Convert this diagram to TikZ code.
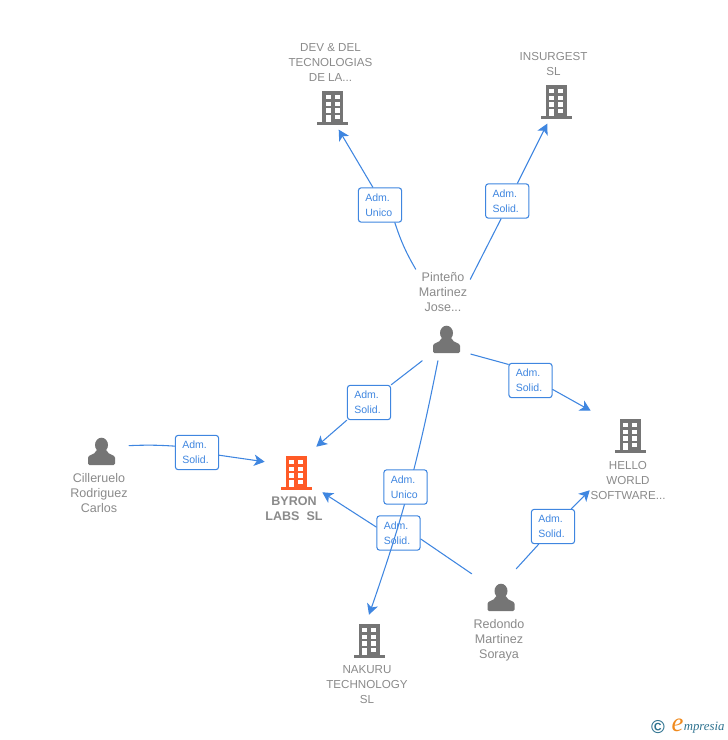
\documentclass[tikz,border=0pt]{standalone}
\usepackage{fontspec}
\setmainfont{Liberation Sans}
\newfontfamily\wmfont{Liberation Serif}
\usetikzlibrary{arrows.meta}
\definecolor{linkblue}{HTML}{3F86E0}
\definecolor{namegray}{HTML}{8A8A8A}
\definecolor{icongray}{HTML}{757575}
\definecolor{byronred}{HTML}{FF5A26}
\definecolor{wmteal}{HTML}{2F7390}
\definecolor{wmorange}{HTML}{F08A1E}
\tikzset{
	link/.style={draw=linkblue,line width=0.8pt},
	roleBox/.style={draw=linkblue,line width=0.8pt,fill=white,rounded corners=2.2pt,minimum width=32.5pt,minimum height=25.8pt,inner sep=0pt,text width=22pt,text=linkblue,align=left,font=\fontsize{7.9}{11.25}\selectfont},
	iconMark/.style={rectangle,minimum width=36pt,minimum height=32pt,inner sep=0pt},
	nameLabel/.style={text=namegray,align=center,inner sep=0pt,font=\fontsize{9.4}{11.25}\selectfont},
	firmLabel/.style={text=namegray,align=center,inner sep=0pt,font=\fontsize{8.7}{11.25}\selectfont},
	pics/building/.style={code={
		\fill[#1] (-10.5,-17) rectangle (10.5,14);
		\fill[#1] (-15.5,14) rectangle (15.5,17);
		\foreach \wy in {-13,-6,0.3}{
			\fill[white] (-7,\wy) rectangle (-2,\wy+4.3);
			\fill[white] (2.2,\wy) rectangle (7.2,\wy+4.3);
		}
		\fill[white] (2.2,7) rectangle (7.2,11);
		\fill[white] (-7,7) rectangle (-2,14);
	}},
	pics/person/.style={code={
		\fill[icongray] (0,-6.5) ellipse (6.5 and 7.3);
		\fill[icongray,rounded corners=1pt] (-13.5,13.5) -- (-13.5,7.5)
			.. controls (-13.5,3) and (-6.5,3.5) .. (-5,-2) -- (5,-2)
			.. controls (6.5,3.5) and (13.5,3) .. (13.5,7.5) -- (13.5,13.5) -- cycle;
	}}
}
\begin{document}
\begin{tikzpicture}[x=0.75pt,y=-0.75pt,line join=round,line cap=round,>={Stealth[length=8pt,width=8.5pt,inset=2.2pt]}]
	\useasboundingbox (0,0) rectangle (728,740);
	% anchors for the icons
	\node[iconMark] (dev) at (332.5,108) {};
	\node[iconMark] (insurgest) at (556,102) {};
	\node[iconMark,minimum width=58.5pt,minimum height=37.5pt] (hello) at (630,436) {};
	\node[iconMark,minimum height=39pt] (nakuru) at (369,641) {};
	\node[iconMark,minimum width=42.75pt,minimum height=33.75pt] (byron) at (293.5,469.5) {};
	\node[iconMark,minimum height=31.5pt] (pinteno) at (446.5,339.5) {};
	\node[iconMark,minimum width=41pt,minimum height=31.5pt] (cilleruelo) at (101.5,451.5) {};
	\node[iconMark,minimum width=43.5pt,minimum height=42.75pt] (redondo) at (501,597.5) {};
	\pic at (dev) {building=icongray};
	\pic at (insurgest) {building=icongray};
	\pic at (hello) {building=icongray};
	\pic at (nakuru) {building=icongray};
	\pic at (296,473) {building=byronred};
	\pic at (pinteno) {person};
	\pic at (cilleruelo) {person};
	\pic at (redondo) {person};
	% names
	\node[firmLabel] (devName) at (330.5,62) {DEV \& DEL\\TECNOLOGIAS\\DE LA...};
	\node[firmLabel] (insurgestName) at (553.5,64.5) {INSURGEST\\SL};
	\node[firmLabel,minimum width=57pt] (helloName) at (628,480) {HELLO\\WORLD\\SOFTWARE...};
	\node[firmLabel] (nakuruName) at (367,685) {NAKURU\\TECHNOLOGY\\SL};
	\node[firmLabel,font=\fontsize{9.4}{11.25}\selectfont\bfseries] (byronName) at (294,508.5) {BYRON\\LABS\ \ SL};
	\node[nameLabel,minimum width=40.5pt,minimum height=33.75pt] (pintenoName) at (443,292) {Pinteño\\Martinez\\Jose...};
	\node[nameLabel] (cillerueloName) at (99,493) {Cilleruelo\\Rodriguez\\Carlos};
	\node[nameLabel] (redondoName) at (499,640) {Redondo\\Martinez\\Soraya};
	% role boxes
	\node[roleBox] (roleDev) at (380,205) {Adm.\\Unico};
	\node[roleBox] (roleInsurgest) at (507.2,201) {Adm.\\Solid.};
	\node[roleBox] (roleByronA) at (369,402.5) {Adm.\\Solid.};
	\node[roleBox] (roleHello) at (530.5,380.5) {Adm.\\Solid.};
	\node[roleBox] (roleCill) at (197,452.5) {Adm.\\Solid.};
	\node[roleBox] (roleByronB) at (398.5,533) {Adm.\\Solid.};
	\node[roleBox] (roleSoft) at (553,526.5) {Adm.\\Solid.};
	% connectors
	\draw[link] (pintenoName.north west) to[bend left=6] (roleDev.-50);
	\draw[link,->] (roleDev.112) -- (dev.-74);
	\draw[link] (pintenoName.25) -- (roleInsurgest.-109);
	\draw[link,->] (roleInsurgest.60) -- (insurgest.-112);
	\draw[link] (pinteno.south west) -- (roleByronA.north east);
	\draw[link,->] (roleByronA.south west) -- (byron.45);
	\draw[link] (pinteno.-31) -- (roleHello.144);
	\draw[link,->] (roleHello.-22) -- (hello.north west);
	\draw[link,->] (pinteno.-112) to[bend left=4] (nakuru.north);
	\draw[link] (cilleruelo.12) to[bend left=3] (roleCill.164);
	\draw[link,->] (roleCill.-7) -- (byron.165);
	\draw[link] (redondo.141) -- (roleByronB.-15);
	\draw[link,->] (roleByronB.165) -- (byron.south east);
	\draw[link] (redondo.62) -- (roleSoft.-129);
	\draw[link,->] (roleSoft.44) -- (helloName.-165);
	% this one sits over the line to nakuru
	\node[roleBox] (roleNakuru) at (405.5,487) {Adm.\\Unico};
	% watermark
	\node[text=wmteal,inner sep=0pt,font=\fontsize{14}{14}\selectfont\bfseries] (wmCopy) at (658,727) {\textcopyright};
	\node[text=wmorange,inner sep=0pt,font=\wmfont\itshape\fontsize{20}{20}\selectfont] (wmE) at (677.5,725.5) {e};
	\node[text=wmteal,inner sep=0pt,anchor=west,font=\wmfont\itshape\fontsize{9.6}{9.6}\selectfont] (wmName) at (683.5,728) {mpresia};
\end{tikzpicture}
\end{document}
